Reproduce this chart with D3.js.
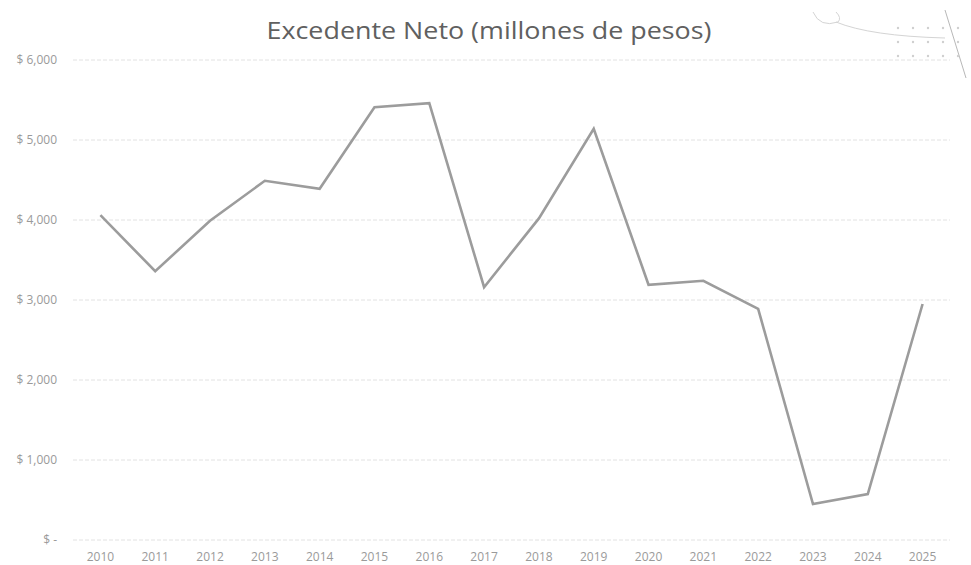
<!DOCTYPE html>
<html><head><meta charset="utf-8">
<script src="https://cdn.jsdelivr.net/npm/d3@7"></script>
<style>html,body{margin:0;padding:0;background:#fff;}</style>
</head><body>
<svg id="c" width="971" height="565"></svg>
<script>
const years = ["2010","2011","2012","2013","2014","2015","2016","2017","2018","2019","2020","2021","2022","2023","2024","2025"];
const excedente = [4060,3360,3990,4490,4390,5410,5460,3160,4020,5140,3190,3240,2890,450,575,2950];
const yTicks = [0,1000,2000,3000,4000,5000,6000];
const title = "Excedente Neto (millones de pesos)";

const svg = d3.select("#c");
const m = {l:73, r:21, t:60, b:25};
const W = 971, H = 565;
const x = d3.scaleBand().domain(years).range([m.l, W - m.r]);
const y = d3.scaleLinear().domain([0,6000]).range([540, 60]);
const font = "'Open Sans', 'DejaVu Sans', sans-serif";

// gridlines
svg.append("g").selectAll("line").data(yTicks).join("line")
  .attr("x1", m.l).attr("x2", W - m.r)
  .attr("y1", d => y(d)).attr("y2", d => y(d))
  .attr("stroke", "#e2e2e2").attr("stroke-width", 1)
  .attr("stroke-dasharray", "4,2");

// y labels
const fmt = d => d === 0 ? "$ -" : "$ " + d3.format(",")(d);
svg.append("g").selectAll("text").data(yTicks).join("text")
  .attr("x", 57).attr("y", d => y(d)).attr("dy", "0.35em")
  .attr("text-anchor", "end")
  .attr("font-family", font).attr("font-size", 12).attr("fill", "#9a9a9a")
  .text(fmt);

// x labels
svg.append("g").selectAll("text").data(years).join("text")
  .attr("x", d => x(d) + x.bandwidth()/2).attr("y", 561)
  .attr("text-anchor", "middle")
  .attr("font-family", font).attr("font-size", 12).attr("fill", "#9a9a9a")
  .text(d => d);

// line
const line = d3.line()
  .x((d,i) => x(years[i]) + x.bandwidth()/2)
  .y(d => y(d));
svg.append("path").datum(excedente)
  .attr("d", line).attr("fill", "none")
  .attr("stroke", "#9c9c9c").attr("stroke-width", 2.6)
  .attr("stroke-linejoin", "miter");

// title
svg.append("text").attr("x", 489).attr("y", 39)
  .attr("text-anchor", "middle")
  .attr("font-family", font).attr("font-size", 24).attr("font-weight", 500)
  .attr("fill", "#606060")
  .attr("textLength", 445).attr("lengthAdjust", "spacingAndGlyphs")
  .text(title);

// faint decorative doodle (scan artifact) top-right
const deco = svg.append("g").attr("stroke", "#d4d4d4").attr("fill", "none").attr("stroke-width", 1);
deco.append("path").attr("d", "M813,12 Q820,28 838,22 Q842,18 836,12");
deco.append("path").attr("d", "M836,22 Q870,36 945,38");
deco.append("line").attr("x1", 945).attr("y1", 10).attr("x2", 966).attr("y2", 78).attr("stroke", "#b8b8b8");
const dots = [];
[28,42,56].forEach(yy => [898,913,928,943,958].forEach(xx => dots.push([xx,yy])));
svg.append("g").selectAll("circle").data(dots).join("circle")
  .attr("cx", d => d[0]).attr("cy", d => d[1]).attr("r", 1.2).attr("fill", "#cfcfcf");
</script>
</body></html>
